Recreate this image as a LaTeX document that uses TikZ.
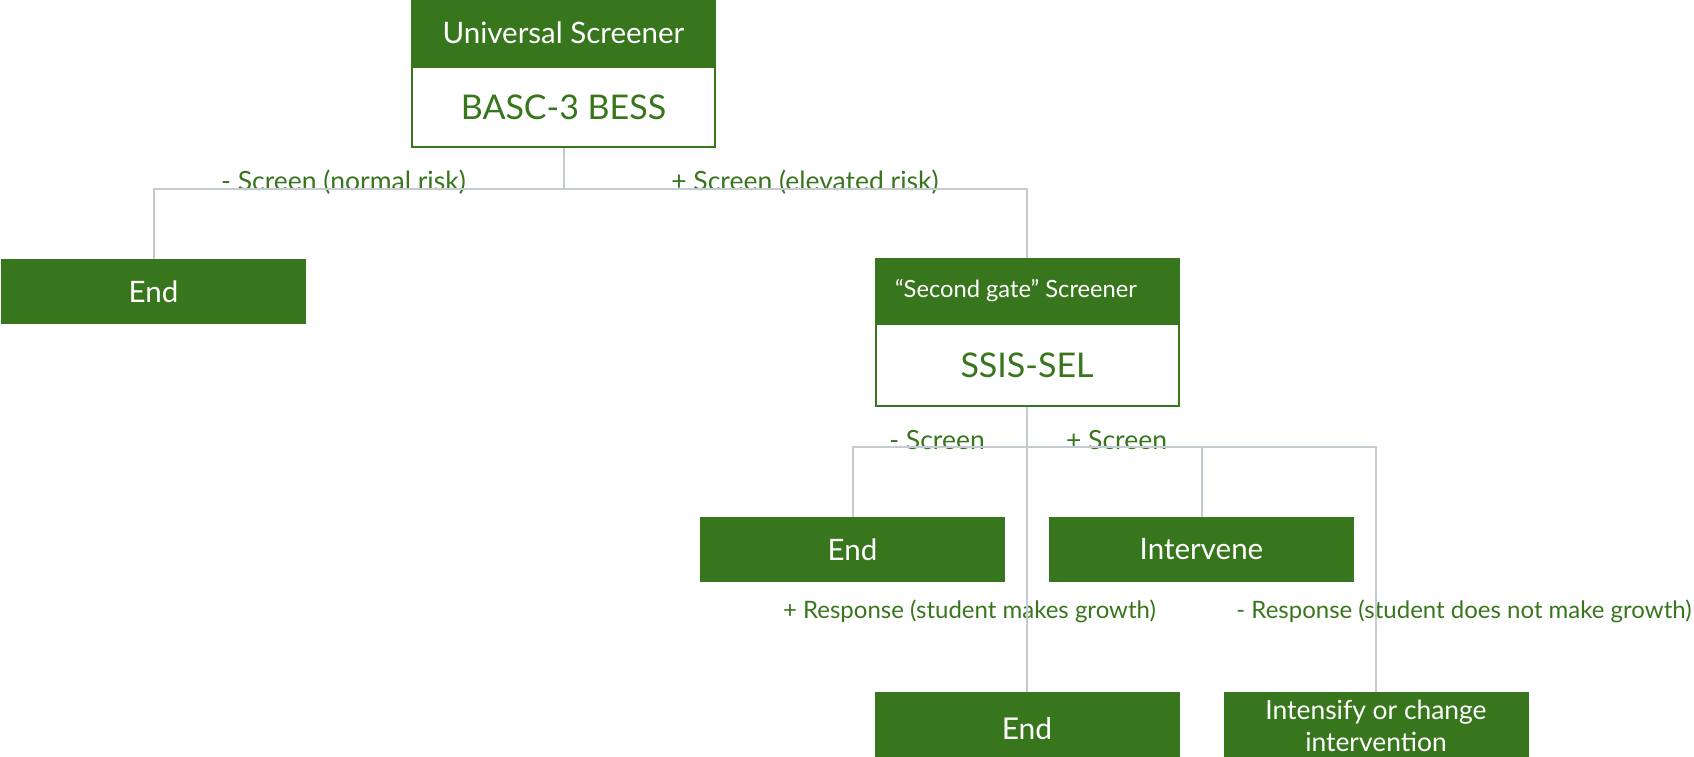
\documentclass[tikz,border=0pt]{standalone}
\usepackage{fontspec}
\setmainfont{Lato}
\usetikzlibrary{positioning}
\definecolor{darkgreen}{HTML}{38761D}
\definecolor{linkgray}{HTML}{C4CBD1}

\tikzset{
  headbox/.style={rectangle, fill=darkgreen, text=white, minimum width=305pt, minimum height=66pt, inner sep=0pt},
  bodybox/.style={rectangle, draw=darkgreen, line width=2pt, fill=white, text=darkgreen, minimum width=303pt, inner sep=0pt},
  endbox/.style={rectangle, fill=darkgreen, text=white, minimum width=305pt, minimum height=65pt, inner sep=0pt, font=\fontsize{29.5}{34}\selectfont},
  branch/.style={text=darkgreen, anchor=base, font=\fontsize{26.5}{30}\selectfont},
  response/.style={branch, font=\fontsize{24}{28}\selectfont},
  link/.style={draw=linkgray, line width=2pt},
}

\begin{document}
\begin{tikzpicture}[x=1pt, y=-1pt]
    \useasboundingbox (0,0) rectangle (1694,756);

    % screeners
    \node[headbox, font=\fontsize{29.5}{34}\selectfont] (uhead) at (563.5,33) {Universal Screener};
    \node[bodybox, minimum height=80pt, below=0pt of uhead, font=\fontsize{34}{40}\selectfont] (basc) {BASC-3 BESS};

    \node[headbox, minimum height=65pt, font=\fontsize{23.7}{28}\selectfont] (shead) at (1027,290.5) {“Second gate” Screener\hspace*{22pt}};
    \node[bodybox, minimum height=82pt, below=0pt of shead, font=\fontsize{34}{40}\selectfont] (ssis) {SSIS-SEL};

    % outcomes
    \node[endbox] (endA) at (153.5,291.5) {End};
    \node[endbox] (endB) at (852.5,549.5) {End};
    \node[endbox] (interv) at (1201.5,549.5) {Intervene};
    \node[endbox, minimum height=72pt, anchor=north, font=\fontsize{30}{34}\selectfont] (endC) at (1027,692) {End};
    \node[endbox, minimum height=68pt, anchor=north, align=center, font=\fontsize{26.4}{32}\selectfont] (intens) at (1376,692) {Intensify or change\\intervention};

    % branch labels
    \node[branch] (lnorm) at (343.5,190) {- Screen (normal risk)};
    \node[branch] (lelev) at (805,190) {+ Screen (elevated risk)};
    \node[branch] (lneg) at (937,449) {- Screen};
    \node[branch] (lpos) at (1116.5,449) {+ Screen};
    \node[response] (lgrow) at (969.5,618) {+ Response (student makes growth)};
    \node[response] (lnogrow) at (1464,618) {- Response (student does not make growth)};

    % connectors
    \draw[link] (basc.south) -- ++(0,41) coordinate (split1);
    \draw[link] (split1) -| (endA.north);
    \draw[link] (split1) -| (shead.north);
    \draw[link] (ssis.south) -- (endC.north);
    \path (ssis.south) ++(0,40) coordinate (split2);
    \draw[link] (split2) -| (endB.north);
    \draw[link] (split2) -| (interv.north);
    \draw[link] (split2) -| (intens.north);
\end{tikzpicture}
\end{document}
